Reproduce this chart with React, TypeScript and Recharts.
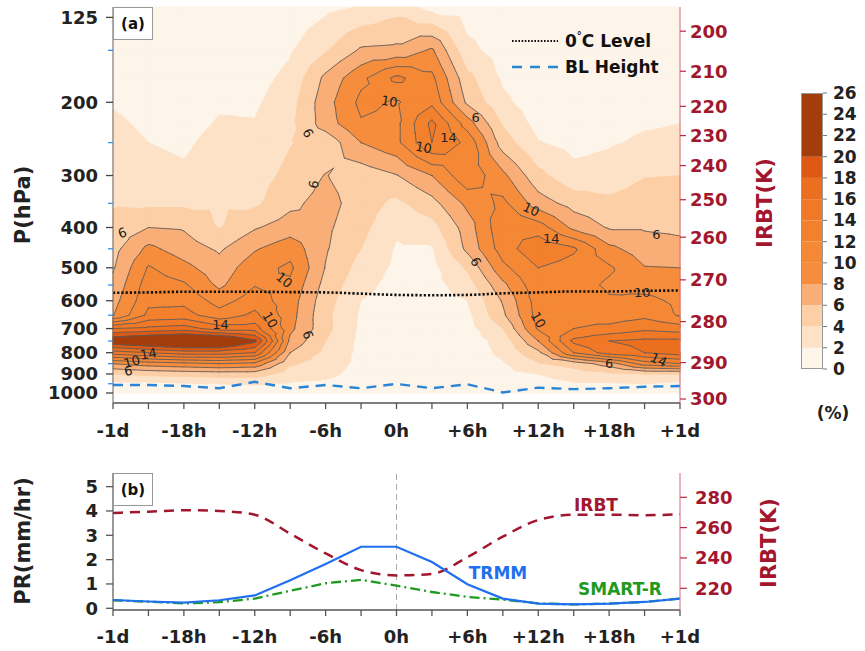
import React from 'react';
import {
  ComposedChart, BarChart, Bar, Line, XAxis, YAxis,
  ReferenceArea, ReferenceLine, ReferenceDot,
} from 'recharts';

// ---------- data ----------
const HOURS = [-24, -21, -18, -15, -12, -9, -6, -3, 0, 3, 6, 9, 12, 15, 18, 21, 24];
const PRESSURE_LEVELS = [118, 150, 175, 200, 225, 250, 300, 350, 400, 450, 500, 550, 600, 650, 700, 750, 800, 850, 900, 950, 1000];

// occurrence frequency (%) per pressure level, one value per hour in HOURS
const FREQ_118 = [0.5, 0.3, 0.3, 0.5, 0.4, 0.8, 1.5, 2.1, 3.2, 1.2, 1.0, 0.8, 0.4, 0.4, 0.5, 0.6, 0.7];
const FREQ_150 = [1.0, 0.6, 0.5, 0.8, 0.8, 1.8, 3.8, 6.3, 6.5, 8.3, 2.5, 1.2, 0.6, 0.5, 0.7, 0.9, 1.0];
const FREQ_175 = [1.3, 0.9, 0.7, 1.2, 1.3, 2.5, 6.5, 9.5, 12.5, 10.5, 4.6, 1.7, 0.8, 0.7, 0.9, 1.2, 1.4];
const FREQ_200 = [1.8, 1.2, 0.9, 1.7, 1.7, 3.2, 7.2, 10.5, 9.8, 11.5, 5.6, 2.4, 1.0, 0.9, 1.1, 1.5, 1.7];
const FREQ_225 = [2.4, 1.6, 1.2, 2.2, 2.1, 3.5, 7.0, 9.8, 9.5, 14.5, 9.0, 3.8, 1.3, 1.1, 1.4, 1.8, 2.0];
const FREQ_250 = [2.8, 2.0, 1.6, 2.8, 2.6, 3.9, 4.6, 8.0, 9.5, 14.0, 11.5, 5.0, 2.1, 1.4, 1.8, 2.3, 2.4];
const FREQ_300 = [3.2, 2.8, 2.4, 3.4, 3.2, 4.5, 6.1, 4.8, 5.9, 8.0, 11.5, 8.5, 4.6, 2.6, 2.8, 3.9, 4.0];
const FREQ_350 = [3.8, 3.6, 3.6, 3.7, 3.6, 5.5, 6.8, 5.0, 3.5, 5.3, 8.5, 10.5, 7.0, 5.2, 4.5, 5.0, 4.9];
const FREQ_400 = [4.6, 6.0, 5.8, 3.9, 5.8, 7.0, 6.4, 4.6, 2.3, 3.2, 7.0, 11.5, 11.0, 7.5, 5.8, 5.8, 5.6];
const FREQ_450 = [5.3, 8.5, 7.0, 5.7, 7.8, 9.2, 6.2, 4.0, 1.8, 1.8, 6.5, 11.0, 13.5, 12.3, 8.5, 7.0, 6.6];
const FREQ_500 = [5.8, 10.2, 8.6, 6.8, 9.2, 10.4, 5.9, 3.2, 1.6, 1.4, 4.3, 9.5, 12.0, 11.2, 10.3, 8.1, 8.0];
const FREQ_550 = [6.5, 11.0, 10.3, 7.6, 9.9, 9.6, 5.3, 2.6, 1.3, 1.3, 3.0, 7.5, 11.5, 10.8, 9.7, 9.3, 9.0];
const FREQ_600 = [7.2, 11.5, 11.5, 9.2, 11.0, 9.0, 4.8, 2.0, 1.2, 1.2, 2.0, 6.2, 11.0, 11.5, 10.2, 10.5, 9.6];
const FREQ_650 = [7.9, 12.5, 12.8, 10.8, 12.5, 8.8, 4.5, 1.7, 1.1, 1.1, 1.5, 5.6, 10.8, 11.5, 11.0, 11.5, 9.8];
const FREQ_700 = [16.0, 16.5, 17.0, 15.0, 15.0, 8.5, 4.6, 1.6, 1.0, 1.0, 1.2, 4.0, 10.3, 12.0, 12.5, 13.5, 13.0];
const FREQ_750 = [22.0, 23.0, 24.0, 24.0, 20.5, 7.5, 4.0, 1.5, 1.0, 1.0, 1.0, 2.7, 8.0, 14.5, 16.0, 16.5, 16.5];
const FREQ_800 = [15.0, 16.0, 17.0, 17.0, 16.0, 6.0, 3.5, 1.5, 1.0, 1.0, 1.0, 2.4, 5.5, 12.0, 15.0, 16.0, 17.0];
const FREQ_850 = [8.0, 9.0, 9.5, 10.0, 9.5, 4.3, 3.0, 1.5, 1.0, 0.9, 0.9, 1.8, 3.8, 4.8, 7.0, 11.0, 12.0];
const FREQ_900 = [4.0, 4.5, 4.8, 5.0, 5.0, 3.0, 2.5, 1.3, 1.0, 0.9, 0.9, 1.5, 2.0, 3.0, 3.5, 4.0, 4.0];
const FREQ_950 = [1.5, 1.5, 1.8, 2.0, 2.2, 1.8, 1.6, 1.0, 0.8, 0.8, 0.7, 1.0, 1.2, 1.8, 1.8, 2.0, 1.5];
const FREQ_1000 = [0.5, 0.5, 0.5, 0.6, 0.7, 0.6, 0.5, 0.4, 0.3, 0.3, 0.3, 0.4, 0.4, 0.5, 0.5, 0.5, 0.5];
const FREQUENCY_ROWS = [
  FREQ_118, FREQ_150, FREQ_175, FREQ_200, FREQ_225, FREQ_250, FREQ_300, FREQ_350, FREQ_400,
  FREQ_450, FREQ_500, FREQ_550, FREQ_600, FREQ_650, FREQ_700, FREQ_750, FREQ_800, FREQ_850,
  FREQ_900, FREQ_950, FREQ_1000,
];

const ZERO_C_LEVEL = [574, 573, 571, 571, 571, 572, 573, 577, 581, 582, 581, 576, 573, 570, 570, 568, 567];
const BL_HEIGHT = [957, 957, 962, 974, 940, 974, 957, 974, 951, 974, 953, 997, 971, 979, 974, 966, 962];

const TRMM = [0.34, 0.28, 0.23, 0.33, 0.53, 1.15, 1.82, 2.53, 2.53, 1.9, 0.99, 0.4, 0.19, 0.16, 0.19, 0.26, 0.4];
const SMART_R = [0.33, 0.27, 0.2, 0.25, 0.4, 0.72, 1.03, 1.17, 0.93, 0.67, 0.47, 0.36, 0.2, 0.16, 0.19, 0.26, 0.4];
const IRBT = [269.7, 270.5, 271.5, 271, 268.5, 256, 243, 232, 228.5, 229.5, 240.5, 254, 265, 268.5, 268.5, 268.2, 268.8];

const TIME_TICKS = HOURS;
const P_TICKS = [125, 200, 300, 400, 500, 600, 700, 800, 900, 1000];
const P_MINOR_TICKS = [150, 250, 350, 450, 550, 650, 750, 850, 950];
const IRBT_TICK_LABELS = [200, 210, 220, 230, 240, 250, 260, 270, 280, 290, 300];
const IRBT_TICK_PRESSURE = [134.9, 168.4, 204.5, 240.5, 284, 343, 422, 534.5, 673.5, 845, 1034];
const PR_TICKS = [0, 1, 2, 3, 4, 5];
const IRBT_K_TICKS = [220, 240, 260, 280];

const LEVEL_FLOORS = [0, 2, 4, 6, 8, 10, 12, 14, 16, 18, 20];
const BAND_SIZES = [2, 2, 2, 2, 2, 2, 2, 2, 2, 2, 6];
const BAND_COLORS = ['#fdf4ea', '#fde2c7', '#fccfa6', '#f9ae78', '#f68d3d', '#f58834', '#f3802c', '#f07826', '#ec6f1f', '#e05913', '#a33d0b'];
const LINE_LEVELS = [6, 8, 10, 12, 14, 16, 18, 20];

const CONTOUR_LABELS = [
  { t: -23.2, p: 412, text: '6', angle: -20 },
  { t: -9.5, p: 535, text: '10', angle: 40 },
  { t: -14.9, p: 686, text: '14', angle: 0 },
  { t: -10.7, p: 667, text: '10', angle: 60 },
  { t: -7.5, p: 725, text: '6', angle: 70 },
  { t: -21, p: 805, text: '14', angle: -10 },
  { t: -22.4, p: 841, text: '10', angle: -15 },
  { t: -22.7, p: 885, text: '6', angle: -10 },
  { t: -7, p: 315, text: '6', angle: -80 },
  { t: -7.5, p: 237, text: '6', angle: 60 },
  { t: -0.6, p: 199, text: '10', angle: 10 },
  { t: 6.7, p: 218, text: '6', angle: 0 },
  { t: 4.4, p: 243, text: '14', angle: 0 },
  { t: 2.3, p: 257, text: '10', angle: 10 },
  { t: 11.4, p: 362, text: '10', angle: 25 },
  { t: 13.1, p: 424, text: '14', angle: 0 },
  { t: 22, p: 416, text: '6', angle: 0 },
  { t: 6.7, p: 484, text: '6', angle: 60 },
  { t: 20.8, p: 574, text: '10', angle: 0 },
  { t: 12, p: 667, text: '10', angle: 60 },
  { t: 18, p: 847, text: '6', angle: 0 },
  { t: 22.2, p: 833, text: '14', angle: 25 },
];

const TOP_DATA = HOURS.map((t, i) => ({ t, zero: ZERO_C_LEVEL[i], bl: BL_HEIGHT[i] }));
const BOTTOM_DATA = HOURS.map((t, i) => ({ t, trmm: TRMM[i], smart: SMART_R[i], irbt: IRBT[i] }));
const COLORBAR_DATA = [BAND_SIZES.reduce((o: any, s, k) => { o['b' + k] = s; return o; }, { name: 'cb' })];

// ---------- helpers ----------
const FONT = 'DejaVu Sans';
const RED = '#a3172e';
const fmtHour = (t: number) => {
  if (t % 6 !== 0) return '';
  if (t === -24) return '-1d';
  if (t === 24) return '+1d';
  if (t === 0) return '0h';
  return t > 0 ? `+${t}h` : `${t}h`;
};

type Pt = [number, number, number];
function makeTris(x: number, y: number, w: number, h: number, v: number[]): Pt[][] {
  const TL: Pt = [x, y, v[0]];
  const TR: Pt = [x + w, y, v[1]];
  const BR: Pt = [x + w, y + h, v[2]];
  const BL: Pt = [x, y + h, v[3]];
  const C: Pt = [x + w / 2, y + h / 2, (v[0] + v[1] + v[2] + v[3]) / 4];
  return [[TL, TR, C], [TR, BR, C], [BR, BL, C], [BL, TL, C]];
}
function clip(tri: Pt[], L: number): Pt[] {
  const out: Pt[] = [];
  for (let i = 0; i < tri.length; i++) {
    const a = tri[i];
    const b = tri[(i + 1) % tri.length];
    const ain = a[2] >= L;
    const bin = b[2] >= L;
    if (ain) out.push(a);
    if (ain !== bin) {
      const f = (L - a[2]) / (b[2] - a[2]);
      out.push([a[0] + f * (b[0] - a[0]), a[1] + f * (b[1] - a[1]), L]);
    }
  }
  return out;
}
const f2 = (n: number) => n.toFixed(2);

function cellVals(i: number, j: number) {
  return [FREQUENCY_ROWS[i][j], FREQUENCY_ROWS[i][j + 1], FREQUENCY_ROWS[i + 1][j + 1], FREQUENCY_ROWS[i + 1][j]];
}

// one band layer (value >= LEVEL_FLOORS[k]) inside one grid cell
function renderBand(r: any, vals: number[], k: number) {
  const { x, y, width, height } = r;
  const tris = makeTris(Number(x), Number(y), Number(width), Number(height), vals);
  const L = LEVEL_FLOORS[k];
  let d = '';
  for (const tri of tris) {
    const poly = clip(tri, L);
    if (poly.length >= 3) d += 'M' + poly.map((p) => `${f2(p[0])},${f2(p[1])}`).join('L') + 'Z';
  }
  if (!d) return <g />;
  return <path d={d} fill={BAND_COLORS[k]} stroke={BAND_COLORS[k]} strokeWidth={0.9} strokeLinejoin="round" />;
}

function renderLines(r: any, vals: number[]) {
  const { x, y, width, height } = r;
  const tris = makeTris(Number(x), Number(y), Number(width), Number(height), vals);
  let d = '';
  for (const L0 of LINE_LEVELS) {
    const L = L0 + 1e-4;
    for (const tri of tris) {
      const pts: number[][] = [];
      for (let k = 0; k < 3; k++) {
        const a = tri[k];
        const b = tri[(k + 1) % 3];
        if ((a[2] - L) * (b[2] - L) < 0) {
          const f = (L - a[2]) / (b[2] - a[2]);
          pts.push([a[0] + f * (b[0] - a[0]), a[1] + f * (b[1] - a[1])]);
        }
      }
      if (pts.length === 2) d += `M${f2(pts[0][0])},${f2(pts[0][1])}L${f2(pts[1][0])},${f2(pts[1][1])}`;
    }
  }
  if (!d) return <g />;
  return <path d={d} fill="none" stroke="#5c5c5c" strokeWidth={0.85} strokeLinecap="round" />;
}

const bandIndex = (v: number) => {
  let k = 0;
  for (let m = 0; m < LEVEL_FLOORS.length; m++) if (v >= LEVEL_FLOORS[m]) k = m;
  return k;
};

const cells: { i: number; j: number }[] = [];
for (let i = 0; i < PRESSURE_LEVELS.length - 1; i++) {
  for (let j = 0; j < HOURS.length - 1; j++) cells.push({ i, j });
}
// draw layer by layer (all cells at a level before the next level), skipping layers fully hidden by the next one
const bandItems: { i: number; j: number; k: number }[] = [];
LEVEL_FLOORS.forEach((_, k) => {
  cells.forEach(({ i, j }) => {
    const v = cellVals(i, j);
    const lo = bandIndex(Math.min(...v));
    const hi = bandIndex(Math.max(...v));
    if (k >= lo && k <= hi) bandItems.push({ i, j, k });
  });
});

const tickStyle = { fontSize: 18, fontWeight: 700, fill: '#222', fontFamily: FONT };
const redTickStyle = { fontSize: 18, fontWeight: 700, fill: RED, fontFamily: FONT };

const PressureTick = (props: any) => {
  const { x, y, payload } = props;
  const v = payload.value;
  const major = P_TICKS.indexOf(v) >= 0;
  const ax = x + 8 + 7;
  return (
    <g>
      <line x1={ax - (major ? 7 : 5)} x2={ax} y1={y} y2={y} stroke={major ? '#444' : '#3a8ee0'} strokeWidth={1.3} />
      {major && (
        <text x={x} y={y} dy="0.36em" textAnchor="end" style={tickStyle as any}>{v}</text>
      )}
    </g>
  );
};

export default function App() {
  return (
    <div style={{ position: 'absolute', left: 0, top: 0, width: 865, height: 651, background: '#fff', fontFamily: FONT }}>
      {/* Panel (a) */}
      <div style={{ position: 'absolute', left: 0, top: 0 }}>
        <ComposedChart width={865} height={450} data={TOP_DATA} margin={{ top: 7, right: 105, bottom: 7, left: 0 }}>
          <XAxis xAxisId="b" type="number" dataKey="t" domain={[-24, 24]} allowDataOverflow ticks={TIME_TICKS} interval={0}
            tickFormatter={fmtHour} tickSize={6} tickMargin={15} height={40}
            axisLine={{ stroke: '#555', strokeWidth: 1.5 }} tickLine={{ stroke: '#555', strokeWidth: 1.3 }} tick={tickStyle} />
          <XAxis xAxisId="t" orientation="top" type="number" dataKey="t" domain={[-24, 24]} allowDataOverflow height={0}
            tick={false} tickLine={false} axisLine={{ stroke: '#999', strokeWidth: 1 }} />
          <YAxis yAxisId="p" type="number" scale="log" domain={[118, 1057]} reversed allowDataOverflow
            ticks={[...P_TICKS, ...P_MINOR_TICKS]} interval={0} width={113} tickSize={7} tickMargin={8}
            tickLine={false} tick={(p: any) => <PressureTick {...p} />} axisLine={{ stroke: '#666', strokeWidth: 1 }} />
          <YAxis yAxisId="r" orientation="right" type="number" scale="log" domain={[118, 1057]} reversed allowDataOverflow
            ticks={IRBT_TICK_PRESSURE} interval={0} width={80} tickSize={6} tickMargin={4}
            tickFormatter={(v: number) => String(IRBT_TICK_LABELS[IRBT_TICK_PRESSURE.indexOf(v)])}
            tick={{ ...redTickStyle, textAnchor: 'start' }} tickLine={{ stroke: '#b52a45', strokeWidth: 1.2 }}
            axisLine={{ stroke: '#d46a80', strokeWidth: 1 }} />
          {bandItems.map(({ i, j, k }) => (
            <ReferenceArea key={`f${k}-${i}-${j}`} xAxisId="b" yAxisId="p" ifOverflow="visible"
              x1={HOURS[j]} x2={HOURS[j + 1]} y1={PRESSURE_LEVELS[i]} y2={PRESSURE_LEVELS[i + 1]}
              shape={(r: any) => renderBand(r, cellVals(i, j), k)} />
          ))}
          {cells.map(({ i, j }) => (
            <ReferenceArea key={`l${i}-${j}`} xAxisId="b" yAxisId="p" ifOverflow="visible"
              x1={HOURS[j]} x2={HOURS[j + 1]} y1={PRESSURE_LEVELS[i]} y2={PRESSURE_LEVELS[i + 1]}
              shape={(r: any) => renderLines(r, cellVals(i, j))} />
          ))}
          {CONTOUR_LABELS.map((c, k) => (
            <ReferenceDot key={`c${k}`} xAxisId="b" yAxisId="p" x={c.t} y={c.p} ifOverflow="visible"
              shape={(pr: any) => (
                <text x={pr.cx} y={pr.cy} dy="0.35em" textAnchor="middle" transform={`rotate(${c.angle} ${pr.cx} ${pr.cy})`}
                  style={{ fontSize: 13, fontFamily: FONT, fill: '#222' }}>{c.text}</text>
              )} />
          ))}
          <Line xAxisId="b" yAxisId="p" dataKey="zero" type="monotone" stroke="#111" strokeWidth={2.6}
            strokeDasharray="2.2 2" dot={false} isAnimationActive={false} />
          <Line xAxisId="b" yAxisId="p" dataKey="bl" type="linear" stroke="#2b84d6" strokeWidth={2.4}
            strokeDasharray="10 7" dot={false} isAnimationActive={false} />
        </ComposedChart>
      </div>

      {/* Panel (b) */}
      <div style={{ position: 'absolute', left: 0, top: 450 }}>
        <ComposedChart width={865} height={201} data={BOTTOM_DATA} margin={{ top: 23, right: 105, bottom: 0, left: 0 }}>
          <XAxis xAxisId="b" type="number" dataKey="t" domain={[-24, 24]} allowDataOverflow ticks={TIME_TICKS} interval={0}
            tickFormatter={fmtHour} tickSize={6} tickMargin={14} height={41}
            axisLine={{ stroke: '#555', strokeWidth: 1.5 }} tickLine={{ stroke: '#555', strokeWidth: 1.3 }} tick={tickStyle} />
          <XAxis xAxisId="t" orientation="top" type="number" dataKey="t" domain={[-24, 24]} allowDataOverflow ticks={TIME_TICKS}
            interval={0} height={0} tickSize={6} tickFormatter={() => ''}
            axisLine={{ stroke: '#555', strokeWidth: 1.3 }} tickLine={{ stroke: '#555', strokeWidth: 1.3 }} />
          <YAxis yAxisId="pr" type="number" domain={[-0.07, 5.56]} allowDataOverflow ticks={PR_TICKS} interval={0}
            width={113} tickSize={7} tickMargin={8} tick={tickStyle}
            axisLine={{ stroke: '#555', strokeWidth: 1.2 }} tickLine={{ stroke: '#555', strokeWidth: 1.3 }} />
          <YAxis yAxisId="k" orientation="right" type="number" domain={[205.7, 296]} allowDataOverflow ticks={IRBT_K_TICKS}
            interval={0} width={80} tickSize={7} tickMargin={8} tick={{ ...redTickStyle, textAnchor: 'start' }}
            axisLine={{ stroke: '#d46a80', strokeWidth: 1 }} tickLine={{ stroke: '#b52a45', strokeWidth: 1.2 }} />
          <ReferenceLine xAxisId="b" yAxisId="pr" x={0} stroke="#aaa" strokeWidth={1} strokeDasharray="6 4" />
          <Line xAxisId="b" yAxisId="k" dataKey="irbt" type="monotone" stroke={RED} strokeWidth={2.5}
            strokeDasharray="10 7" dot={false} isAnimationActive={false} />
          <Line xAxisId="b" yAxisId="pr" dataKey="smart" type="linear" stroke="#1f9a1f" strokeWidth={2.3}
            strokeDasharray="10 4 2 4" dot={false} isAnimationActive={false} />
          <Line xAxisId="b" yAxisId="pr" dataKey="trmm" type="linear" stroke="#1f6ff0" strokeWidth={2.2}
            dot={false} isAnimationActive={false} />
        </ComposedChart>
      </div>

      {/* Colorbar */}
      <div style={{ position: 'absolute', left: 801, top: 83 }}>
        <BarChart width={64} height={300} data={COLORBAR_DATA} margin={{ top: 10, right: 2, bottom: 14, left: 0 }}
          barCategoryGap={0} barGap={0}>
          <XAxis dataKey="name" hide />
          <YAxis orientation="right" type="number" domain={[0, 26]} allowDataOverflow ticks={LEVEL_FLOORS.concat([22, 24, 26])}
            interval={0} width={40} tickSize={4} tickMargin={6} axisLine={false}
            tickLine={{ stroke: '#777' }} tick={{ fontSize: 17, fontWeight: 700, fill: '#222', fontFamily: FONT, textAnchor: 'start' }} />
          {BAND_SIZES.map((s, k) => (
            <Bar key={k} dataKey={`b${k}`} stackId="cb" fill={BAND_COLORS[k]} isAnimationActive={false} />
          ))}
        </BarChart>
      </div>
      <div style={{ position: 'absolute', left: 801, top: 93, width: 22, height: 276, border: '1px solid #999', boxSizing: 'border-box' }} />

      {/* Annotations */}
      <svg width={865} height={651} style={{ position: 'absolute', left: 0, top: 0, pointerEvents: 'none' }}>
        <g style={{ fontFamily: FONT, fontWeight: 700 }}>
          <rect x={113.5} y={7.5} width={39} height={32} fill="#fff" stroke="#999" />
          <text x={133} y={24} dy="0.36em" textAnchor="middle" fontSize={15} fill="#111">(a)</text>
          <line x1={512} x2={558} y1={41} y2={41} stroke="#111" strokeWidth={2} strokeDasharray="1.6 1.6" />
          <text x={565} y={47} fontSize={17} fill="#111">0<tspan dy={-8} fontSize={10}>°</tspan><tspan dy={8}>C Level</tspan></text>
          <line x1={512} x2={558} y1={67} y2={67} stroke="#2b84d6" strokeWidth={2.5} strokeDasharray="10 8" />
          <text x={565} y={73} fontSize={17} fill="#111">BL Height</text>
          <text transform="translate(22 205) rotate(-90)" textAnchor="middle" dy="0.36em" fontSize={21} fill="#222">P(hPa)</text>
          <text transform="translate(764 203) rotate(-90)" textAnchor="middle" dy="0.36em" fontSize={21} fill={RED}>IRBT(K)</text>
          <text x={833} y={413} dy="0.36em" textAnchor="middle" fontSize={17} fill="#222">(%)</text>

          <rect x={113.5} y={473.5} width={39} height={32} fill="#fff" stroke="#999" />
          <text x={133} y={490} dy="0.36em" textAnchor="middle" fontSize={15} fill="#111">(b)</text>
          <text transform="translate(22 541) rotate(-90)" textAnchor="middle" dy="0.36em" fontSize={21} fill="#222">PR(mm/hr)</text>
          <text transform="translate(768 543) rotate(-90)" textAnchor="middle" dy="0.36em" fontSize={21} fill={RED}>IRBT(K)</text>
          <text x={596} y={505} dy="0.36em" textAnchor="middle" fontSize={17} fill={RED}>IRBT</text>
          <text x={498} y={573} dy="0.36em" textAnchor="middle" fontSize={17} fill="#1f6ff0">TRMM</text>
          <text x={620} y={589} dy="0.36em" textAnchor="middle" fontSize={17} fill="#1f9a1f">SMART-R</text>
        </g>
      </svg>
    </div>
  );
}
